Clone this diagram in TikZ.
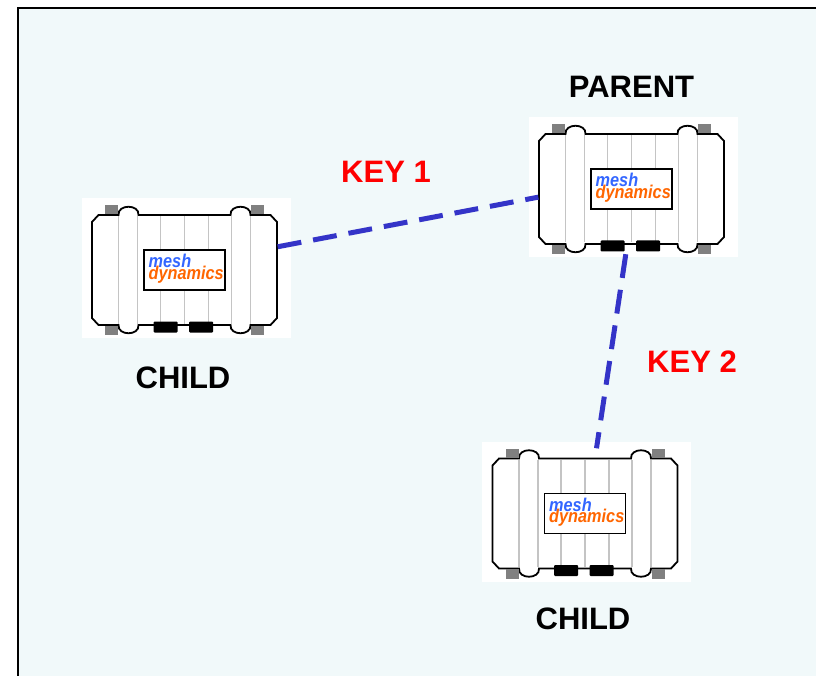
\documentclass[tikz,border=0pt]{standalone}
\usepackage{fontspec}
\setmainfont{Liberation Sans}
\usepackage{tikz}
\usetikzlibrary{calc, positioning}

\definecolor{linkblue}{RGB}{52,52,200}
\definecolor{meshblue}{RGB}{51,102,255}
\definecolor{meshorange}{RGB}{255,102,0}
\definecolor{tabgrey}{RGB}{128,128,128}
\definecolor{ribgrey}{RGB}{196,196,196}
\definecolor{paper}{RGB}{241,249,250}

\tikzset{
  meshbox/.pic={
    % white patch behind the unit
    \fill[white] (-103,-72) rectangle (106,68);
    % casing
    \draw[line width=1.8, fill=white]
      (-92.5,-48) -- (-86,-55) -- (-66,-55)
      .. controls (-67,-66) and (-45,-66) .. (-46,-55) -- (46,-55)
      .. controls (45,-66) and (67,-66) .. (66,-55) -- (86,-55)
      -- (92.5,-48) -- (92.5,48) -- (86,55) -- (66,55)
      .. controls (67,66) and (45,66) .. (46,55) -- (-46,55)
      .. controls (-45,66) and (-67,66) .. (-66,55) -- (-86,55)
      -- (-92.5,48) -- cycle;
    % ribs
    \foreach \rx in {-66,-47,-24,0,24,47,66}
      \draw[ribgrey, line width=1.5] (\rx,-53.5) -- (\rx,53.5);
    % mounting tabs
    \foreach \sx in {-1,1} {
      \fill[tabgrey] (\sx*73-6.5,-65) rectangle (\sx*73+6.5,-55.8);
      \fill[tabgrey] (\sx*73-6.5,55.8) rectangle (\sx*73+6.5,65);
    }
    % ports
    \fill[black, rounded corners=1] (-31,51.5) rectangle (-7,62.5);
    \fill[black, rounded corners=1] (4.5,51.5) rectangle (28.5,62.5);
    % badge
    \draw[line width=1.8, fill=white] (-40.5,-20) rectangle (40.5,20);
    \node[logo, text=meshblue] at (-36,-2.3) {\scalebox{0.88}[1]{mesh}};
    \node[logo, text=meshorange] at (-36,9.3) {\scalebox{0.88}[1]{dynamics}};
  }
}

\begin{document}
\begin{tikzpicture}[x=1pt, y=-1pt,
    device/.style={minimum width=186pt, minimum height=130pt, inner sep=0pt},
    logo/.style={anchor=base west, inner sep=0pt, font=\fontsize{18.5}{19}\selectfont\bfseries\itshape},
    lbl/.style={anchor=base, inner sep=0pt, font=\fontsize{31}{36}\selectfont\bfseries},
    link/.style={linkblue, line width=5pt, dash pattern=on 24pt off 12pt}]
    \useasboundingbox (0,0) rectangle (816,676);

    % 1. Background and frame
    \fill[paper] (17.7,7.7) rectangle (816,676);
    \draw[line width=2.2pt] (17.7,676) -- (17.7,7.7) -- (816,7.7);

    % 2. Units
    \node[device] (parent) at (631.5,189) {};
    \node[device] (child1) at (184.5,270) {};
    \node[device] (child2) at (585,513.5) {};
    \pic at (parent) {meshbox};
    \pic at (child1) {meshbox};
    \pic at (child2) {meshbox};

    % 3. Links
    \draw[link] (child1.14.5) -- (parent.185.5);
    \draw[link] (parent.-95) -- (child2.80);

    % 4. Labels
    \node[lbl] (parentlbl) at (631.5,98) {PARENT};
    \node[lbl] (child1lbl) at (183,388) {CHILD};
    \node[lbl] (child2lbl) at (583,629) {CHILD};
    \node[lbl, text=red] (key1) at (386,183) {KEY 1};
    \node[lbl, text=red] (key2) at (692,372) {KEY 2};
\end{tikzpicture}
\end{document}
